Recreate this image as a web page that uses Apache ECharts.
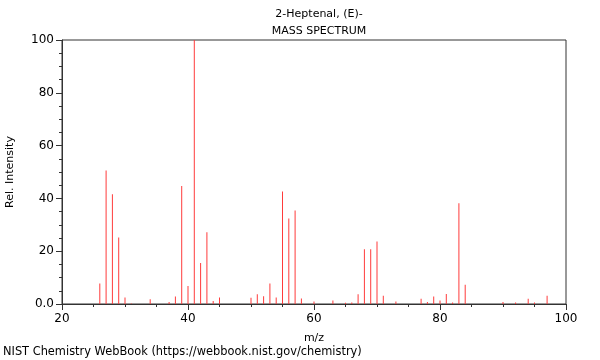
<!DOCTYPE html>
<html><head><meta charset="utf-8">
<script src="https://cdn.jsdelivr.net/npm/echarts@6/dist/echarts.min.js"></script>
<style>html,body{margin:0;padding:0;background:#fff}#c{width:600px;height:360px}</style>
</head><body><div id="c"></div>
<script>
const mz = [26,27,28,29,30,31,34,37,38,39,40,41,42,43,44,45,50,51,52,53,54,55,56,57,58,60,63,65,66,67,68,69,70,71,73,77,78,79,80,81,82,83,84,90,92,94,95,97];
const intensity = [7.8,50.6,41.6,25.2,2.5,0.2,1.8,0.8,2.8,44.7,6.8,100,15.5,27.2,1.1,2.5,2.4,3.7,2.9,7.8,2.5,42.6,32.4,35.4,2.1,0.9,1.3,0.5,0.6,3.7,20.7,20.7,23.7,3.1,0.9,2.0,0.8,2.8,1.3,3.8,0.6,38.2,7.3,0.8,0.6,2.0,0.6,3.1];
const titleLines = ['2-Heptenal, (E)-','MASS SPECTRUM'];
const xName = 'm/z', yName = 'Rel. Intensity';
const footer = 'NIST Chemistry WebBook (https://webbook.nist.gov/chemistry)';

const F = 'DejaVu Sans';
const chart = echarts.init(document.getElementById('c'), null, {renderer:'canvas'});
const axisCol = '#333';
chart.setOption({
  animation:false,
  textStyle:{fontFamily:F},
  title:[
    {text:titleLines.join('\n'), left:314, top:1, textAlign:'center',
     textStyle:{fontFamily:F,fontSize:11,fontWeight:'normal',color:'#000',lineHeight:17}},
    {text:footer, left:3, top:347, padding:0, textStyle:{fontFamily:F,fontSize:11.4,fontWeight:'normal',color:'#000'}}
  ],
  grid:{left:62,right:34,top:40,bottom:56,show:true,borderColor:axisCol,borderWidth:1,
    containLabel:false,outerBoundsMode:'none'},
  xAxis:{type:'value',min:20,max:100,interval:20,name:xName,nameLocation:'middle',nameGap:29,
    nameTextStyle:{fontFamily:F,fontSize:11,color:'#000'},
    axisLine:{show:true,lineStyle:{color:axisCol}},
    axisTick:{show:true,length:6,lineStyle:{color:axisCol}},
    minorTick:{show:true,splitNumber:4,length:3,lineStyle:{color:axisCol}},
    axisLabel:{fontFamily:F,fontSize:12,color:'#000',margin:9},
    splitLine:{show:false}},
  yAxis:{type:'value',min:0,max:100,interval:20,name:yName,nameLocation:'middle',nameGap:46,
    nameTextStyle:{fontFamily:F,fontSize:11,color:'#000'},
    axisLine:{show:true,lineStyle:{color:axisCol}},
    axisTick:{show:true,length:6,lineStyle:{color:axisCol}},
    minorTick:{show:true,splitNumber:4,length:3,lineStyle:{color:axisCol}},
    axisLabel:{fontFamily:F,fontSize:12,color:'#000',margin:8,formatter:v=>v===0?'0.0':String(v)},
    splitLine:{show:false}},
  series:[{type:'bar',data:mz.map((m,i)=>[m,intensity[i]]),barWidth:1,
    itemStyle:{color:'#ff3b3b'}}]
});
</script></body></html>
